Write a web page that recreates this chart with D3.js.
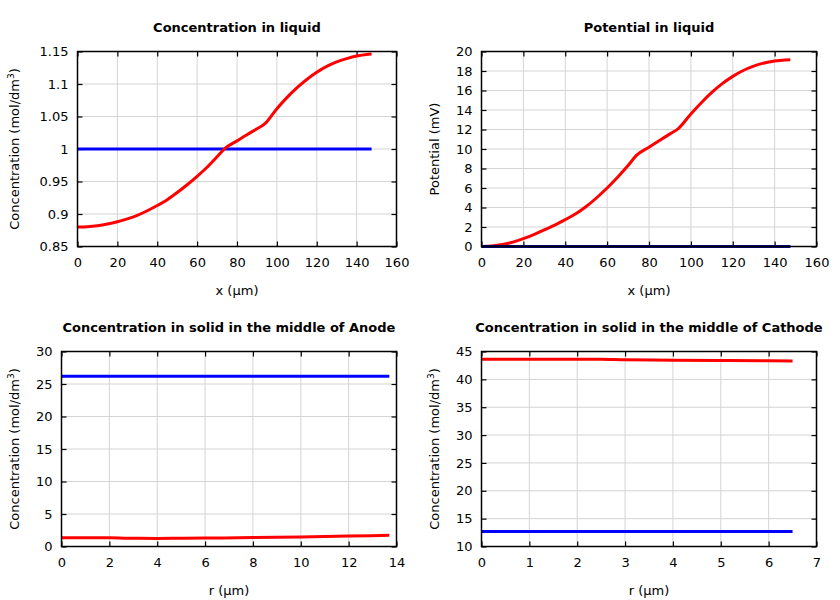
<!DOCTYPE html>
<html><head><meta charset="utf-8">
<script src="https://cdn.jsdelivr.net/npm/d3@7/dist/d3.min.js"></script>
<style>
body{margin:0;background:#fff;}
svg{font-family:"DejaVu Sans",sans-serif;}
</style></head>
<body><svg id="c" width="840" height="600"></svg>
<script>
// ---- data ----
const xLiquid = [0,5,10,15,20,25,30,35,40,45,50,55,60,65,70,74,80,85,90,94,100,105,110,115,120,125,130,135,140,145,147.5];
const concLiquid = [0.880,0.8805,0.882,0.8845,0.888,0.8925,0.898,0.905,0.913,0.922,0.933,0.945,0.958,0.972,0.988,1.001,1.0125,1.022,1.031,1.039,1.062,1.079,1.094,1.107,1.118,1.127,1.134,1.139,1.143,1.1455,1.146];
const concLiquidInit = [1,1];
const xLiquidEnds = [0,147.5];
const potLiquid = [0,0.05,0.2,0.45,0.8,1.22,1.7,2.2,2.75,3.35,4.1,5.0,6.0,7.1,8.3,9.35,10.18,10.87,11.55,12.1,13.6,14.75,15.8,16.7,17.45,18.05,18.5,18.82,19.02,19.13,19.15];
const potLiquidInit = [0,0];
const rAnode = [0,2,2.8,4,6,8,10,12,13.7];
const concAnode = [1.35,1.33,1.27,1.25,1.3,1.37,1.47,1.6,1.72];
const rAnodeEnds = [0,13.7];
const concAnodeInit = [26.2,26.2];
const rCathode = [0,1,2,2.5,3,4,5,6,6.5];
const concCathode = [43.6,43.6,43.6,43.6,43.5,43.45,43.4,43.35,43.3];
const rCathodeEnds = [0,6.5];
const concCathodeInit = [12.7,12.7];

const svg = d3.select("#c");

const panels = [
 {title:"Concentration in liquid", x0:77.5,x1:396.5,y0:51.5,y1:246.5, xd:[0,160], xt:d3.range(0,161,20), yd:[0.85,1.15], yt:[0.85,0.9,0.95,1,1.05,1.1,1.15], xl:"x (µm)", yl:"conc", ylx:14,
  series:[{x:xLiquidEnds,y:concLiquidInit,c:"#0000ff",w:3},{x:xLiquid,y:concLiquid,c:"#ff0000",w:3}]},
 {title:"Potential in liquid", x0:481.5,x1:816.5,y0:51.5,y1:246.5, xd:[0,160], xt:d3.range(0,161,20), yd:[0,20], yt:d3.range(0,21,2), xl:"x (µm)", yl:"Potential (mV)", ylx:434,
  series:[{x:xLiquid,y:potLiquid,c:"#ff0000",w:3},{x:xLiquidEnds,y:potLiquidInit,c:"#0000ff",w:3},{x:xLiquidEnds,y:potLiquidInit,c:"#000000",w:2}]},
 {title:"Concentration in solid in the middle of Anode", x0:61.5,x1:396.5,y0:351.5,y1:546.5, xd:[0,14], xt:d3.range(0,15,2), yd:[0,30], yt:d3.range(0,31,5), xl:"r (µm)", yl:"conc", ylx:14,
  series:[{x:rAnodeEnds,y:concAnodeInit,c:"#0000ff",w:3},{x:rAnode,y:concAnode,c:"#ff0000",w:3}]},
 {title:"Concentration in solid in the middle of Cathode", x0:481.5,x1:816.5,y0:351.5,y1:546.5, xd:[0,7], xt:d3.range(0,8,1), yd:[10,45], yt:d3.range(10,46,5), xl:"r (µm)", yl:"conc", ylx:434,
  series:[{x:rCathodeEnds,y:concCathodeInit,c:"#0000ff",w:3},{x:rCathode,y:concCathode,c:"#ff0000",w:3}]}
];

panels.forEach((p,pi)=>{
  const g = svg.append("g");
  const x = d3.scaleLinear().domain(p.xd).range([p.x0,p.x1]);
  const y = d3.scaleLinear().domain(p.yd).range([p.y1,p.y0]);
  const W = p.x1-p.x0, H = p.y1-p.y0;
  g.append("g").selectAll("line").data(p.xt).join("line")
    .attr("x1",d=>x(d)).attr("x2",d=>x(d)).attr("y1",p.y0).attr("y2",p.y1)
    .attr("stroke","#d4d4d4").attr("stroke-width",1);
  g.append("g").selectAll("line").data(p.yt).join("line")
    .attr("x1",p.x0).attr("x2",p.x1).attr("y1",d=>y(d)).attr("y2",d=>y(d))
    .attr("stroke","#d4d4d4").attr("stroke-width",1);
  const fmt = d=>String(+d.toFixed(2));
  const axB = g.append("g").attr("transform",`translate(0,${p.y1})`)
    .call(d3.axisBottom(x).tickValues(p.xt).tickSizeInner(-5).tickSizeOuter(0).tickPadding(11).tickFormat(fmt));
  const axT = g.append("g").attr("transform",`translate(0,${p.y0})`)
    .call(d3.axisTop(x).tickValues(p.xt).tickSizeInner(-5).tickSizeOuter(0).tickFormat(""));
  const axL = g.append("g").attr("transform",`translate(${p.x0},0)`)
    .call(d3.axisLeft(y).tickValues(p.yt).tickSizeInner(-5).tickSizeOuter(0).tickPadding(9).tickFormat(fmt));
  const axR = g.append("g").attr("transform",`translate(${p.x1},0)`)
    .call(d3.axisRight(y).tickValues(p.yt).tickSizeInner(-5).tickSizeOuter(0).tickFormat(""));
  [axB,axT,axL,axR].forEach(a=>{
    a.select(".domain").remove();
    a.selectAll(".tick line").attr("stroke","#000").attr("stroke-width",1.2);
    a.selectAll("text").attr("font-size",13).attr("fill","#000").attr("font-family","DejaVu Sans");
  });
  const clipId = "clip"+pi;
  g.append("clipPath").attr("id",clipId).append("rect").attr("x",p.x0-2).attr("y",p.y0-2).attr("width",W+4).attr("height",H+4);
  p.series.forEach(s=>{
    const pts = s.x.map((v,i)=>[v,s.y[i]]);
    g.append("path").attr("clip-path",`url(#${clipId})`)
      .attr("d",d3.line().curve(d3.curveMonotoneX).x(d=>x(d[0])).y(d=>y(d[1]))(pts))
      .attr("fill","none").attr("stroke",s.c).attr("stroke-width",s.w).attr("stroke-linejoin","round");
  });
  g.append("rect").attr("x",p.x0).attr("y",p.y0).attr("width",W).attr("height",H)
    .attr("fill","none").attr("stroke","#000").attr("stroke-width",1.5);
  g.append("text").attr("x",(p.x0+p.x1)/2).attr("y",p.y0-20).attr("text-anchor","middle")
    .attr("font-size",13).attr("font-weight","bold").text(p.title);
  g.append("text").attr("x",(p.x0+p.x1)/2).attr("y",p.y1+48).attr("text-anchor","middle")
    .attr("font-size",13).text(p.xl);
  const yt = g.append("text").attr("transform",`translate(${p.ylx+5},${(p.y0+p.y1)/2}) rotate(-90)`)
    .attr("text-anchor","middle").attr("font-size",13);
  if(p.yl==="conc"){
    yt.append("tspan").text("Concentration (mol/dm");
    yt.append("tspan").attr("font-size",9).attr("dy",-5).text("3");
    yt.append("tspan").attr("dy",5).text(")");
  } else yt.text(p.yl);
});
</script></body></html>
